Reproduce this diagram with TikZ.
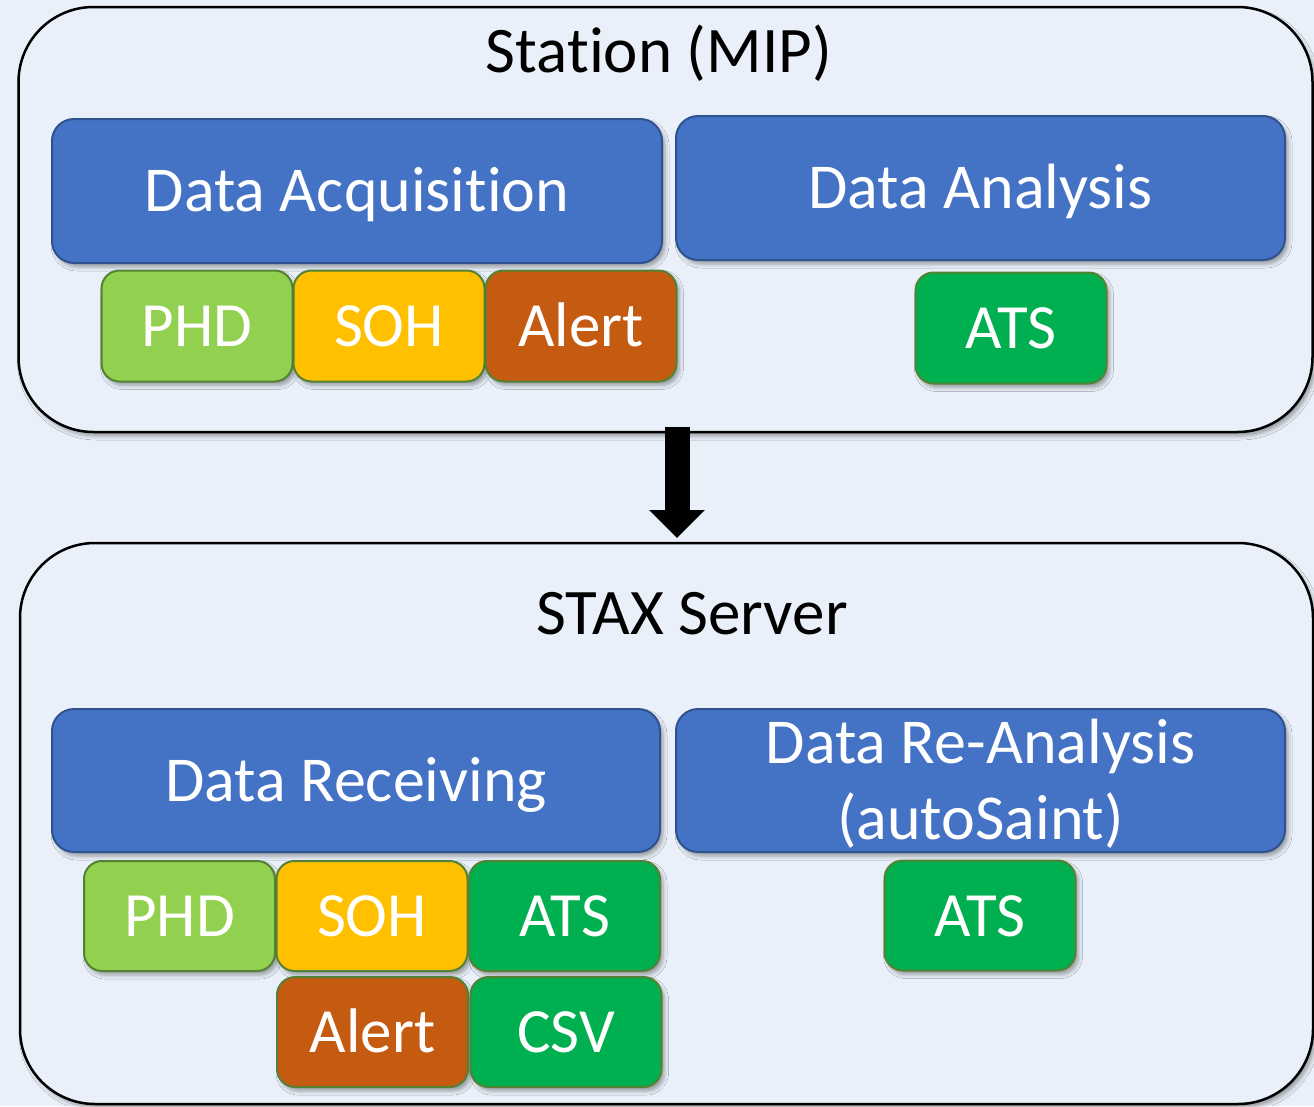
\documentclass[tikz,border=0pt]{standalone}
\usepackage{fontspec}
\setmainfont{Carlito}[Ligatures={NoCommon}]
\usetikzlibrary{arrows.meta,shadows.blur}
\definecolor{bgblue}{HTML}{E9F0F9}
\definecolor{boxblue}{HTML}{4472C4}
\definecolor{boxblueedge}{HTML}{2F528F}
\definecolor{phdgreen}{HTML}{92D050}
\definecolor{sohyellow}{HTML}{FFC000}
\definecolor{alertorange}{HTML}{C55A11}
\definecolor{atsgreen}{HTML}{00B050}
\definecolor{smalledge}{HTML}{548235}
\tikzset{
  shd/.style={blur shadow={shadow xshift=3pt, shadow yshift=-4pt, shadow blur radius=4pt, shadow opacity=35}},
  container/.style={draw=black, line width=2.5pt, fill=bgblue, rounded corners=75pt, shd, inner sep=0pt},
  title/.style={font=\fontsize{65}{76}\selectfont, text=black, text height=42pt, text depth=0pt, inner sep=0pt},
  bluebox/.style={draw=boxblueedge, line width=2pt, fill=boxblue, rounded corners=22pt, shd,
    text=white, font=\fontsize{64}{73}\selectfont, align=center, text height=41pt, text depth=0pt, inner sep=0pt},
  smallbox/.style={draw=smalledge, line width=2pt, fill=#1, rounded corners=18pt, shd,
    text=white, font=\fontsize{63}{73}\selectfont, text height=41pt, text depth=0pt, inner sep=0pt,
    minimum width=191pt, minimum height=111pt},
}
\begin{document}
\begin{tikzpicture}[x=1pt,y=-1pt]
\fill[bgblue] (0,0) rectangle (1314,1106);
\useasboundingbox (0,0) rectangle (1314,1106);

% containers
\node[container, minimum width=1294pt, minimum height=425pt] (station) at (665.5,219.5) {};
\node[container, minimum width=1293pt, minimum height=561pt] (stax) at (666.5,823.5) {};

% arrow
\coordinate (arrstart) at (677,427);
\coordinate (arrend) at (677,538);
\draw[line width=25pt, -{Triangle[width=54pt,length=28pt]}] (arrstart) -- (arrend);

% titles
\node[title] (stationtitle) at (659,51) {Station (MIP)};
\node[title] (staxtitle) at (692,613) {STAX Server};

% station boxes
\node[bluebox, minimum width=610pt, minimum height=144pt] (acq) at (357,191) {Data Acquisition};
\node[bluebox, minimum width=609pt, minimum height=144pt] (ana) at (980.5,188) {Data Analysis};
\node[smallbox=phdgreen] (phd1) at (197,326) {PHD};
\node[smallbox=sohyellow] (soh1) at (389,326) {SOH};
\node[smallbox=alertorange] (alert1) at (581,326) {Alert};
\node[smallbox=atsgreen] (ats1) at (1011,328) {ATS};

% stax boxes
\node[bluebox, minimum width=608pt, minimum height=143pt] (recv) at (356,780.5) {Data Receiving};
\node[bluebox, minimum width=609pt, minimum height=143pt, font=\fontsize{64}{76}\selectfont, text height=117pt] (reana) at (980.5,780.5) {Data Re-Analysis\\(autoSaint)};
\node[smallbox=phdgreen, minimum height=110pt] (phd2) at (179.5,916) {PHD};
\node[smallbox=sohyellow, minimum height=110pt] (soh2) at (372,916) {SOH};
\node[smallbox=atsgreen, minimum height=110pt] (ats2) at (564.5,916) {ATS};
\node[smallbox=alertorange, minimum height=110pt] (alert2) at (372.5,1032) {Alert};
\node[smallbox=atsgreen, minimum height=110pt] (csv2) at (566,1032) {CSV};
\node[smallbox=atsgreen, minimum height=110pt] (ats3) at (980,915.5) {ATS};
\end{tikzpicture}
\end{document}
